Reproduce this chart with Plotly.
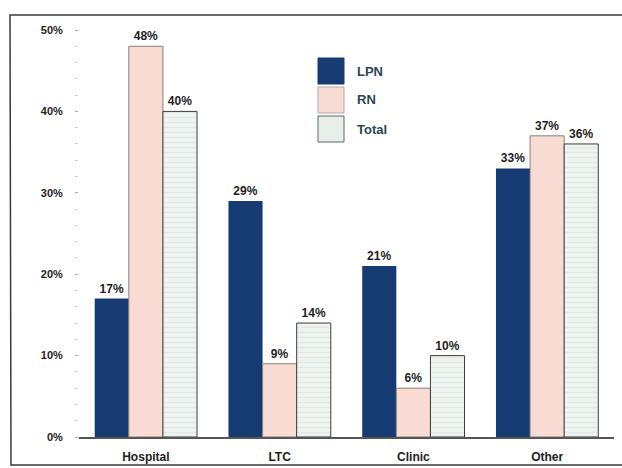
import plotly.graph_objects as go

categories = ["Hospital", "LTC", "Clinic", "Other"]
lpn = [17, 29, 21, 33]
rn = [48, 9, 6, 37]
total = [40, 14, 10, 36]
series_names = ["LPN", "RN", "Total"]
tick_vals = [0, 10, 20, 30, 40, 50]

FONT = "Liberation Sans"
fig = go.Figure()
common = dict(textposition="outside", cliponaxis=False,
              textfont=dict(family=FONT, size=12, color="#1e1e1e"),
              showlegend=False)
fig.add_trace(go.Bar(name=series_names[0], x=categories, y=lpn,
                     text=[f"<b>{v}%</b>" for v in lpn],
                     marker=dict(color="#163a72", line=dict(width=0)), **common))
fig.add_trace(go.Bar(name=series_names[1], x=categories, y=rn,
                     text=[f"<b>{v}%</b>" for v in rn],
                     marker=dict(color="#f8dcd3", line=dict(color="#8a7f7c", width=1)), **common))
fig.add_trace(go.Bar(name=series_names[2], x=categories, y=total,
                     text=[f"<b>{v}%</b>" for v in total],
                     marker=dict(color="#eef3ef", line=dict(color="#3c3c3c", width=1),
                                 pattern=dict(shape="-", fgcolor="#d3ddd7", bgcolor="#f0f4f1",
                                              size=5, solidity=0.3)), **common))

# custom legend (large swatches as in the reference)
sw = [dict(fillcolor="#163a72", line=dict(color="#163a72", width=1)),
      dict(fillcolor="#f8dcd3", line=dict(color="#b8a8a4", width=1)),
      dict(fillcolor="#e8efea", line=dict(color="#5a6a66", width=1))]

def px(x):
    return (x - 79) / 535
def py(y):
    return (437 - y) / 407

for i, name in enumerate(series_names):
    y0 = 58 + i * 29
    fig.add_shape(type="rect", xref="paper", yref="paper",
                  x0=px(318), x1=px(344), y0=py(y0 + 26), y1=py(y0), **sw[i])
    fig.add_annotation(xref="paper", yref="paper", x=px(355), y=py(y0 + 13),
                       text=f"<b>{name}</b>", showarrow=False, xanchor="left", yanchor="middle",
                       font=dict(family=FONT, size=13, color="#2a4656"))

# outer frame (left, top, bottom edges; right edge lies outside the picture)
fig.add_shape(type="path", xref="paper", yref="paper",
              path=f"M {px(640)} {py(15)} L {px(10)} {py(15)} L {px(11)} {py(465)} L {px(640)} {py(465)}",
              line=dict(color="#3a3a3a", width=1.5), fillcolor="rgba(0,0,0,0)", layer="below")

fig.update_layout(
    width=622, height=468,
    margin=dict(l=79, r=8, t=30, b=31, autoexpand=False),
    paper_bgcolor="white", plot_bgcolor="white",
    barmode="group", bargap=0.235, bargroupgap=0,
    font=dict(family=FONT, size=11, color="#1e1e1e"),
    showlegend=False,
    xaxis=dict(showline=True, linecolor="#555555", linewidth=1.5, ticks="",
               automargin=False, ticklabelstandoff=8,
               tickfont=dict(family=FONT, size=12, color="#1e1e1e"),
               tickvals=categories, ticktext=[f"<b>{c}</b>" for c in categories]),
    yaxis=dict(range=[0, 50], tickvals=tick_vals,
               ticktext=[f"<b>{v}%</b>" for v in tick_vals],
               automargin=False,
               showgrid=False, zeroline=False, showline=False,
               ticks="outside", ticklen=3, tickcolor="#aaaaaa",
               ticklabelstandoff=10,
               minor=dict(dtick=2, ticks="outside", ticklen=3, tickcolor="#cccccc"),
               tickfont=dict(family=FONT, size=11, color="#1e1e1e")),
)
fig.write_html("out.html", config={"displayModeBar": False},
               post_script="document.body.style.margin='0';document.body.style.overflow='hidden';")
